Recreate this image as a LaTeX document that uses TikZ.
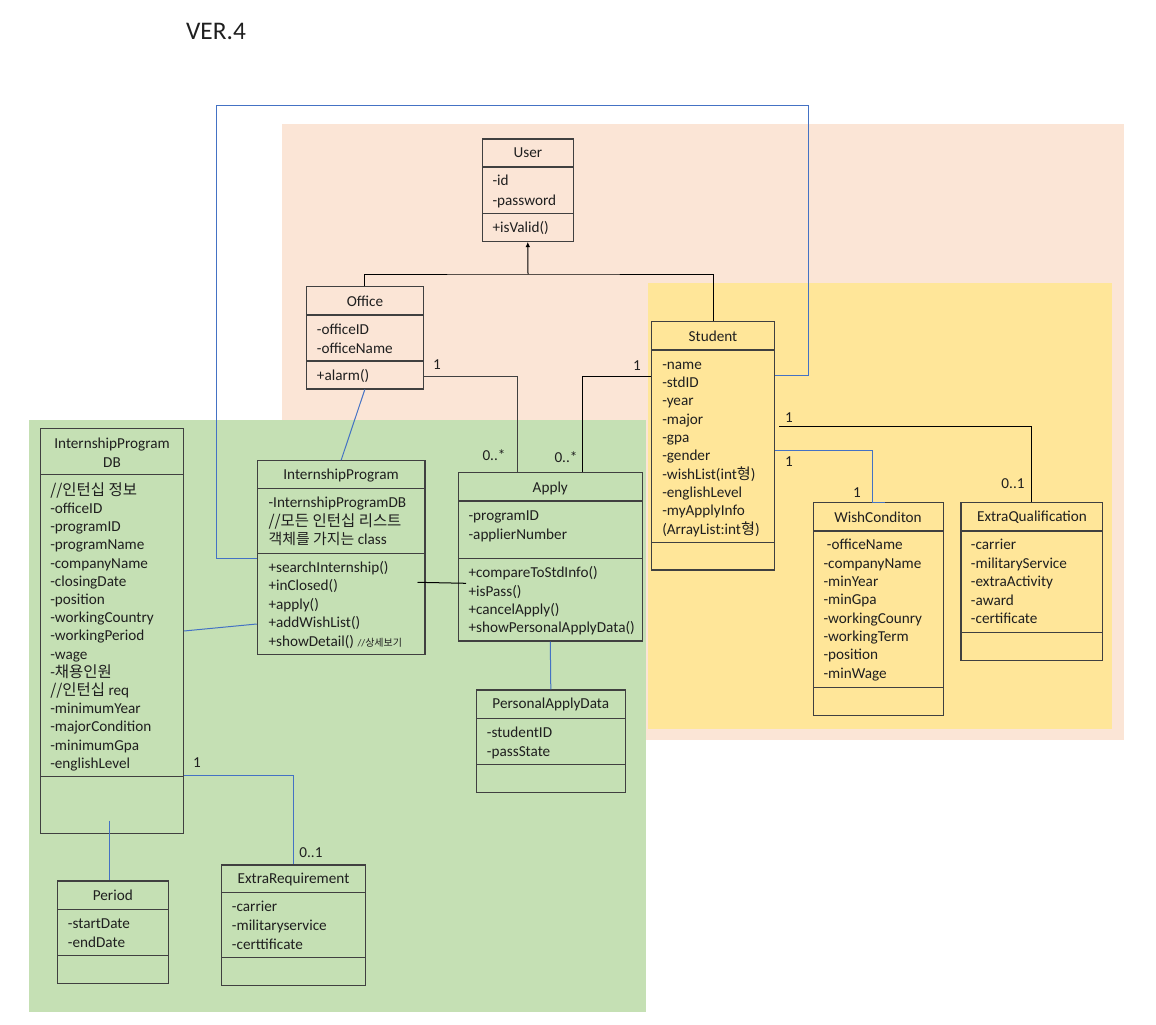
\documentclass[tikz,border=0pt]{standalone}
\usepackage{fontspec}
\setmainfont{Carlito}
\newfontfamily\kr{Noto Sans CJK KR}
\usetikzlibrary{fit,arrows.meta}
\definecolor{peach}{HTML}{FBE5D6}
\definecolor{ylw}{HTML}{FFE699}
\definecolor{grn}{HTML}{C5E0B4}
\definecolor{blu}{HTML}{4472C4}
\definecolor{bord}{HTML}{404040}
\definecolor{tcol}{HTML}{1F1F1F}
\newcommand\umlbox[7]{%
  \node[umlbx, fit={(#2,#3) (#4,#5)}] (#1) {};
  \draw[bord, line width=0.85pt] (#2,#6) -- (#4,#6) (#2,#7) -- (#4,#7);}
\newcommand\txtlines[5]{%
  \foreach \t [count=\i] in {#5} {\node[txt] (#1-\i) at (#2, {#3+4.5+(\i-1)*#4}) {\t};}}
\begin{document}
\begin{tikzpicture}[x=0.75pt,y=-0.75pt,
  umlbx/.style={draw=bord, line width=0.85pt, inner sep=0pt},
  txt/.style={anchor=base west, inner sep=0pt, text=tcol, font=\fontsize{11.4}{13}\selectfont},
  ttl/.style={inner sep=0pt, text=tcol, font=\fontsize{11.4}{13}\selectfont},
  lbl/.style={inner sep=0pt, text=tcol, font=\fontsize{11.4}{13}\selectfont},
  blk/.style={draw=black, line width=0.75pt},
  bl/.style={draw=blu, line width=0.75pt}]
\useasboundingbox (0,0) rectangle (1156,1024);
\fill[white] (0,0) rectangle (1156,1024);
\fill[peach] (282,124) rectangle (1124,740);
\fill[ylw] (648,283) rectangle (1112,729);
\fill[grn] (29,420) rectangle (646,1012);

\node[inner sep=0pt, text=tcol, font=\fontsize{19}{23}\selectfont] (title) at (216,31) {VER.4};

% boxes
\umlbox{user}{482.3}{139}{573.3}{241.3}{167}{213.3}
\umlbox{office}{306.3}{286.7}{423.3}{389}{315}{361}
\umlbox{student}{651.3}{321.7}{774.7}{570}{350}{542.3}
\umlbox{wc}{813.3}{502.7}{943.3}{715.3}{531}{687.3}
\umlbox{eq}{961}{502.7}{1102.7}{660.3}{531}{632.3}
\umlbox{ipdb}{40.3}{428.3}{183.3}{833.3}{474.3}{776.7}
\umlbox{ip}{257.3}{460.7}{425}{654.3}{488.3}{553.3}
\umlbox{apply}{458.3}{472.7}{642.3}{641}{501}{558.3}
\umlbox{pad}{476.3}{690}{625.3}{792.3}{718.7}{764.3}
\umlbox{period}{57.3}{881}{168.3}{983.3}{909.3}{955.3}
\umlbox{er}{221.7}{865}{365.3}{985.3}{892.7}{957.3}

% titles
\node[ttl] (user-t) at (528,153) {User};
\node[ttl] (office-t) at (365,301) {Office};
\node[ttl] (student-t) at (713,336) {Student};
\node[ttl] (wc-t) at (878,517) {WishConditon};
\node[ttl] (eq-t) at (1032,517) {ExtraQualification};
\node[ttl, align=center, font=\fontsize{11.4}{14.25}\selectfont] (ipdb-t) at (112,452.5) {InternshipProgram\\DB};
\node[ttl] (ip-t) at (341,475.5) {InternshipProgram};
\node[ttl] (apply-t) at (550.3,488) {Apply};
\node[ttl] (pad-t) at (550.8,704) {PersonalApplyData};
\node[ttl] (period-t) at (112.8,895.5) {Period};
\node[ttl] (er-t) at (293.5,879.3) {ExtraRequirement};

% compartments
\txtlines{user-a}{492.3}{181}{19.7}{-id,-password}
\txtlines{user-m}{492.3}{228}{18.3}{+isValid()}
\txtlines{office-a}{316.7}{330}{18.5}{-officeID,-officeName}
\txtlines{office-m}{316.7}{376}{18.3}{+alarm()}
\txtlines{student-a}{662}{364.7}{18.33}{-name,-stdID,-year,-major,-gpa,-gender,{-wishList(int{\kr 형})},-englishLevel,-myApplyInfo,{(ArrayList:int{\kr 형})}}
\node[txt] (wc-a-1) at (826.7,549.8) {-officeName};
\txtlines{wc-b}{823.3}{563.7}{18.33}{-companyName,-minYear,-minGpa,-workingCounry,-workingTerm,-position,-minWage}
\txtlines{eq-a}{970.7}{545.3}{18.4}{-carrier,-militaryService,-extraActivity,-award,-certificate}
\txtlines{ipdb-a}{50}{490.8}{18.2}{{{\kr\fontsize{11.6}{13}\selectfont //인턴십 정보}},-officeID,-programID,-programName,-companyName,-closingDate,-position,-workingCountry,-workingPeriod,-wage,{-{\kr\fontsize{11.6}{13}\selectfont 채용인원}},{{\kr\fontsize{11.6}{13}\selectfont //인턴십} req},-minimumYear,-majorCondition,-minimumGpa,-englishLevel}
\txtlines{ip-a}{268.3}{503.3}{18.4}{-InternshipProgramDB,{{\kr\fontsize{11.6}{13}\selectfont //모든 인턴십 리스트}},{{\kr\fontsize{11.2}{13}\selectfont 객체를 가지는} class}}
\txtlines{ip-m}{268.3}{567.7}{18.5}{+searchInternship(),+inClosed(),+apply(),+addWishList(),{+showDetail() {\fontsize{7.5}{9}\selectfont //\kr 상세보기}}}
\txtlines{apply-a}{468.3}{516}{18.7}{-programID,-applierNumber}
\txtlines{apply-m}{468.3}{573.3}{18.3}{+compareToStdInfo(),+isPass(),+cancelApply(),+showPersonalApplyData()}
\txtlines{pad-a}{486.7}{732.7}{19}{-studentID,-passState}
\txtlines{period-a}{67.7}{923.7}{19}{-startDate,-endDate}
\txtlines{er-a}{231.7}{907.3}{18.7}{-carrier,-militaryservice,-certtificate}

% generalization
\coordinate (gen) at (528,274);
\draw[blk] (office.north) |- (gen) -| (student.north);
\draw[blk, -{Latex[length=4pt,width=3.5pt]}] (gen) -- (user.south);

% associations
\draw[blk, draw=black!75] (office.east |- 0,376) -| (517,0 |- apply.north);
\draw[blk] (student.west |- 0,376) -| (582,0 |- apply.north);
\coordinate (sq) at (779,426);
\draw[blk] (sq) -| (eq.north);
\draw[bl] (student.east |- 0,450) -| (872,0 |- wc.north) -- (885,0 |- wc.north);
\draw[bl] (student.east |- 0,375) -| (808,105) -| (216,558) -- (ip.west |- 0,558);
\draw[bl] (office.south) -- (ip.north);
\coordinate (ipa1) at (417.5,582.3);
\coordinate (ipa2) at (466,583.3);
\draw[blk] (ipa1) -- (ipa2);
\draw[bl] (ipdb.east |- 0,631) -- (ip.west |- 0,624);
\draw[bl] (apply.south) -- (pad.north);
\draw[bl] (ipdb.east |- 0,775) -| (er.north);
\coordinate (pd) at (109,820.5);
\draw[bl] (pd) -- (109,0 |- period.north);

% multiplicities
\node[lbl] (l1) at (437,365) {1};
\node[lbl] (l2) at (494,455) {0..*};
\node[lbl] (l3) at (637,366) {1};
\node[lbl] (l4) at (566,457) {0..*};
\node[lbl] (l5) at (789,418) {1};
\node[lbl] (l6) at (1013,484) {0..1};
\node[lbl] (l7) at (789,462) {1};
\node[lbl] (l8) at (857,493) {1};
\node[lbl] (l9) at (197,763) {1};
\node[lbl] (l10) at (311,853) {0..1};
\end{tikzpicture}
\end{document}
